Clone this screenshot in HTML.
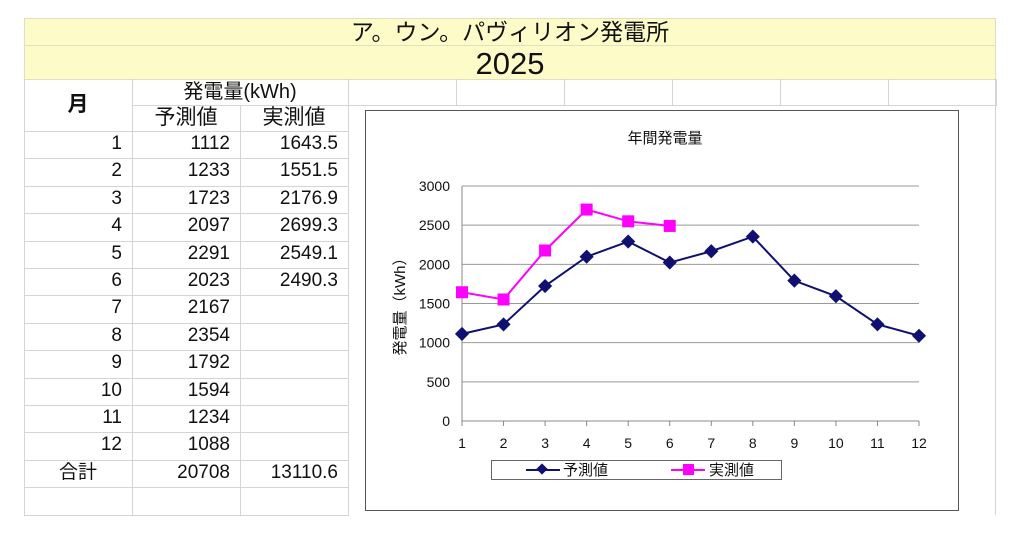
<!DOCTYPE html>
<html><head><meta charset="utf-8">
<style>
body{margin:0;width:1024px;height:554px;background:#fff;position:relative;overflow:hidden;font-family:"Liberation Sans","Noto Sans CJK JP",sans-serif;}
.a{position:absolute;box-sizing:border-box;}
.band{background:#fdfcc8;border:1px solid #e0e0c0;text-align:center;color:#111;}
.c{position:absolute;box-sizing:border-box;border-right:1px solid #d4d4d4;border-bottom:1px solid #d4d4d4;font-size:19px;color:#111;line-height:26px;padding-right:10px;text-align:right;}
</style></head><body>
<div class="a band" style="left:24px;top:18px;width:972px;height:28px;font-size:23px;line-height:27px;">ア。ウン。パヴィリオン発電所</div>
<div class="a band" style="left:24px;top:45px;width:972px;height:35px;font-size:31px;line-height:35px;">2025</div>
<div id="tbl"></div>
<svg class="a" style="left:0;top:0" width="1024" height="554" id="chart"></svg>
<script>
const months=["1","2","3","4","5","6","7","8","9","10","11","12"];
const forecast=[1112,1233,1723,2097,2291,2023,2167,2354,1792,1594,1234,1088];
const actual=[1643.5,1551.5,2176.9,2699.3,2549.1,2490.3];
const yTicks=[0,500,1000,1500,2000,2500,3000];
const tbl=document.getElementById('tbl');
function cell(x,y,w,h,t,name,extra){const d=document.createElement('div');d.className='c';d.style.cssText=`left:${x}px;top:${y}px;width:${w}px;height:${h}px;`+(extra||'');d.textContent=t;


tbl.appendChild(d);}
const L=document.createElement('div');L.className='a';L.style.cssText='left:24px;top:79px;width:1px;height:436px;background:#d4d4d4';tbl.appendChild(L);
cell(24,79,109,53,'月','month-header','text-align:center;padding:0;line-height:52px;font-size:21px;font-weight:bold;');
cell(132,79,217,27,'発電量(kWh)','energy-header','text-align:center;padding:0;font-size:20px;');
cell(132,105,109,27,'予測値','forecast-header','text-align:center;padding:0;font-size:21px;');
cell(240,105,109,27,'実測値','actual-header','text-align:center;padding:0;font-size:21px;');
for(let i=0;i<6;i++){cell(348+i*108,79,109,27,'','blank-cell');}
const rh=27.4;
for(let i=0;i<14;i++){const y=131+i*rh;
 let m=i<12?months[i]:(i==12?'合計':'');
 let f=i<12?String(forecast[i]):(i==12?String(forecast.reduce((a,b)=>a+b,0)):'');
 let r=i<actual.length?String(actual[i]):(i==12?(actual.reduce((a,b)=>a+b,0)).toFixed(1):'');
 cell(24,y,109,rh+1,m,'month-cell',i==12?'text-align:center;padding:0;':'');
 cell(132,y,109,rh+1,f,'forecast-cell');
 cell(240,y,109,rh+1,r,'actual-cell');
}
const R=document.createElement('div');R.className='a';R.style.cssText='left:995px;top:79px;width:1px;height:436px;background:#d4d4d4';tbl.appendChild(R);
const svg=document.getElementById('chart');const NS='http://www.w3.org/2000/svg';
function el(t,a,name,txt){const e=document.createElementNS(NS,t);for(const k in a)e.setAttribute(k,a[k]);if(txt!=null)e.textContent=txt;


svg.appendChild(e);return e;}
el('rect',{x:365.5,y:110.5,width:593,height:400,fill:'#fff',stroke:'#555','stroke-width':1},'chart-frame');
el('text',{x:665,y:143,'font-size':15,'text-anchor':'middle',fill:'#111'},'chart-title','年間発電量');
const x0=462,x1=919,yb=421,yt=186;
const X=i=>x0+(x1-x0)*i/(months.length-1);
const Y=v=>yb-(yb-yt)*v/3000;
yTicks.forEach(t=>{if(t>0)el('line',{x1:x0,x2:x1,y1:Y(t),y2:Y(t),stroke:'#999'},'gridline');
 el('text',{x:x0-12,y:Y(t)+5,'font-size':14,'text-anchor':'end',fill:'#111'},'y-tick-label',String(t));});
el('line',{x1:x0,x2:x0,y1:yt,y2:yb,stroke:'#888'},'y-axis');
el('line',{x1:x0,x2:x1,y1:yb,y2:yb,stroke:'#888'},'x-axis');
months.forEach((m,i)=>{el('line',{x1:X(i),x2:X(i),y1:yb,y2:yb+5,stroke:'#888'},'x-tick');
 el('text',{x:X(i),y:yb+27,'font-size':14,'text-anchor':'middle',fill:'#111'},'x-tick-label',m);});
el('text',{x:405,y:303,'font-size':15,'text-anchor':'middle',fill:'#111',transform:'rotate(-90 405 303)'},'y-axis-title','発電量（kWh）');
el('polyline',{points:forecast.map((v,i)=>X(i)+','+Y(v)).join(' '),fill:'none',stroke:'#101070','stroke-width':2},'forecast-line');
forecast.forEach((v,i)=>el('rect',{x:X(i)-5,y:Y(v)-5,width:10,height:10,fill:'#101070',transform:`rotate(45 ${X(i)} ${Y(v)})`},'forecast-point'));
el('polyline',{points:actual.map((v,i)=>X(i)+','+Y(v)).join(' '),fill:'none',stroke:'#ff00ff','stroke-width':2},'actual-line');
actual.forEach((v,i)=>el('rect',{x:X(i)-6,y:Y(v)-6,width:12,height:12,fill:'#ff00ff'},'actual-point'));
el('rect',{x:491.5,y:460.5,width:290,height:19,fill:'#fff',stroke:'#666'},'legend-box');
el('line',{x1:526,x2:560,y1:470,y2:470,stroke:'#101070','stroke-width':2},'legend-forecast-line');
el('rect',{x:538,y:465,width:8,height:8,fill:'#101070',transform:'rotate(45 542 469)'},'legend-forecast-marker');
el('text',{x:563,y:475,'font-size':15,fill:'#111'},'legend-forecast-label','予測値');
el('line',{x1:671,x2:705,y1:470,y2:470,stroke:'#ff00ff','stroke-width':2},'legend-actual-line');
el('rect',{x:683,y:464,width:11,height:11,fill:'#ff00ff'},'legend-actual-marker');
el('text',{x:709,y:475,'font-size':15,fill:'#111'},'legend-actual-label','実測値');
</script>
</body></html>
